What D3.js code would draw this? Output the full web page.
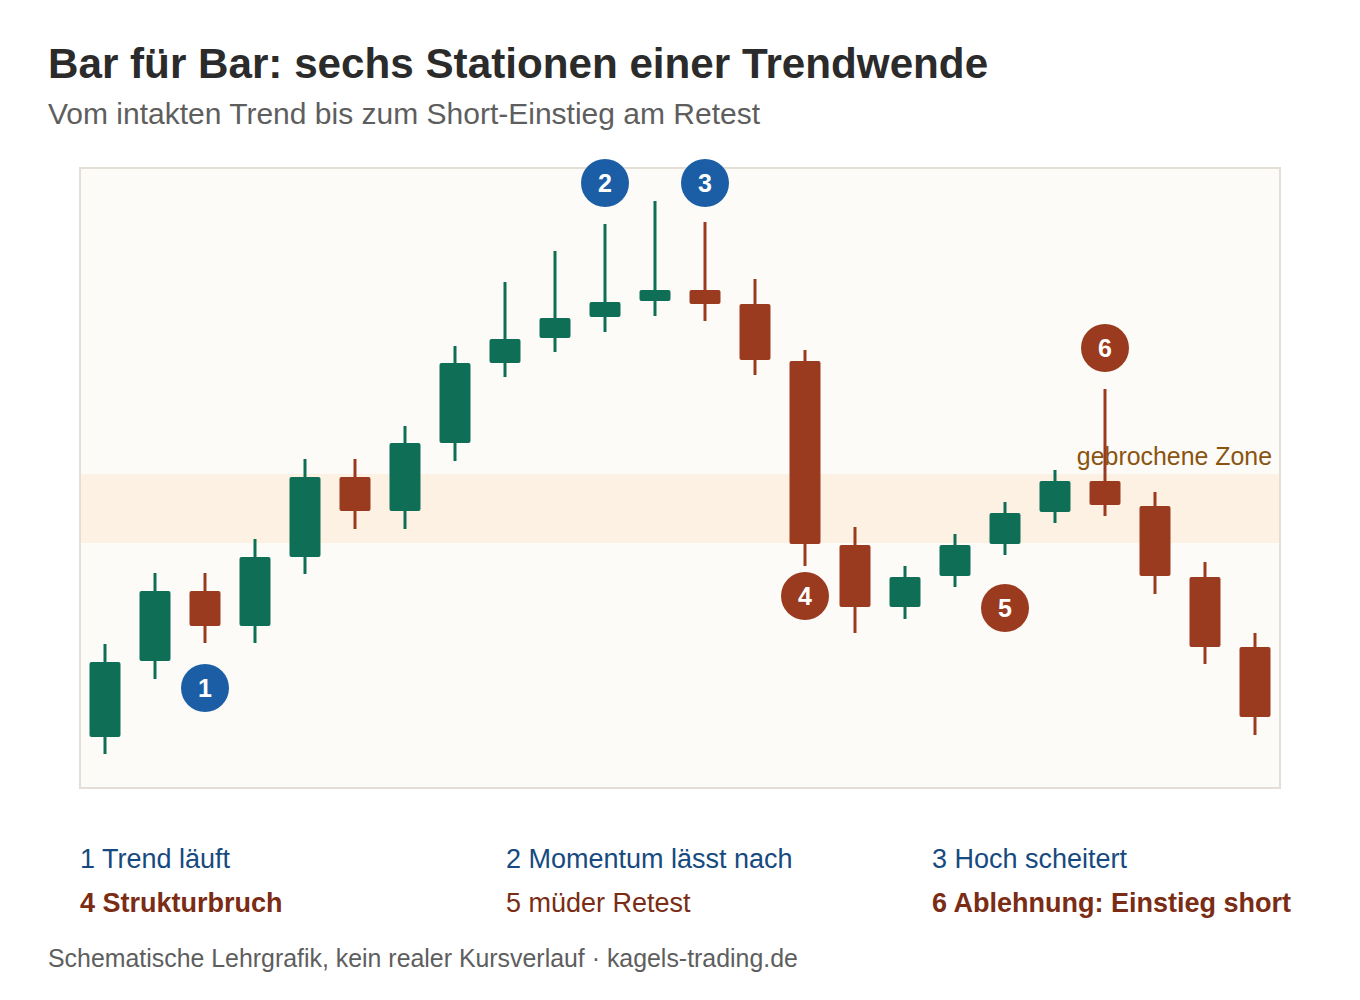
<!DOCTYPE html>
<meta charset="utf-8">
<script src="https://d3js.org/d3.v7.min.js"></script>
<style>
    body { margin: 0; background: #fff; }
    text { font-family: "Liberation Sans", Arial, Helvetica, sans-serif; }
</style>
<div id="chart"></div>
<script>
    // OHLC der 24 schematischen Kerzen (Preis-Einheiten)
    const opens  = [95.1, 102.7, 109.7, 106.2, 113.1, 121.1, 117.7, 124.5, 132.5, 135.0, 137.1, 138.7,
                    139.8, 138.4, 132.7, 114.3, 108.1, 111.2, 114.4, 117.6, 120.7, 118.2, 111.1, 104.1];
    const highs  = [104.4, 111.5, 111.5, 114.9, 122.9, 122.9, 126.2, 134.2, 140.6, 143.7, 146.4, 148.7,
                    146.6, 140.9, 133.8, 116.1, 112.2, 115.4, 118.6, 121.8, 129.9, 119.6, 112.6, 105.5];
    const lows   = [93.4, 100.9, 104.5, 104.5, 111.4, 115.9, 115.9, 122.7, 131.1, 133.6, 135.6, 137.2,
                    136.7, 131.3, 112.2, 105.5, 106.9, 110.1, 113.3, 116.5, 117.2, 109.4, 102.4, 95.3];
    const closes = [102.6, 109.7, 106.2, 113.1, 121.1, 117.7, 124.5, 132.5, 134.9, 137.0, 138.6, 139.8,
                    138.4, 132.8, 114.4, 108.1, 111.1, 114.3, 117.5, 120.7, 118.3, 111.2, 104.1, 97.1];

    // gebrochene Zone
    const zoneLow = 114.5, zoneHigh = 121.4;
    const zoneLabel = "gebrochene Zone";

    // Stationen (Kerzenindex, Preisposition)
    const badgeLabels = ["1", "2", "3", "4", "5", "6"];
    const badgeIdx    = [2, 10, 12, 14, 18, 20];
    const badgePrice  = [100.0, 150.5, 150.5, 109.2, 108.0, 134.0];

    const legendLabels = ["1 Trend läuft", "2 Momentum lässt nach", "3 Hoch scheitert",
                          "4 Strukturbruch", "5 müder Retest", "6 Ablehnung: Einstieg short"];
    const legendBold   = [false, false, false, true, false, true];

    const title = "Bar für Bar: sechs Stationen einer Trendwende";
    const subtitle = "Vom intakten Trend bis zum Short-Einstieg am Retest";
    const footer = "Schematische Lehrgrafik, kein realer Kursverlauf · kagels-trading.de";

    const green = "#0f6e56", red = "#9a3a1e", blue = "#1b5ea6";
    const legendBlue = "#164a80", legendRed = "#7a2c14";

    const W = 1360, H = 1000;
    const plot = {left: 80, right: 1280, top: 168, bottom: 788};

    const svg = d3.select("#chart").append("svg")
        .attr("width", W)
        .attr("height", H);

    svg.append("text")
        .attr("x", 48).attr("y", 78)
        .attr("font-size", 42.2).attr("font-weight", "bold")
        .attr("fill", "#2b2b2b")
        .text(title);

    svg.append("text")
        .attr("x", 48).attr("y", 124)
        .attr("font-size", 30)
        .attr("fill", "#5e5e5e")
        .text(subtitle);

    const candles = opens.map((o, i) => ({i, o, h: highs[i], l: lows[i], c: closes[i]}));

    const x = d3.scaleBand()
        .domain(d3.range(candles.length))
        .range([plot.left, plot.right])
        .paddingInner(0.38)
        .paddingOuter(0.19);

    const y = d3.scaleLinear()
        .domain([90, 152])
        .range([plot.bottom, plot.top]);

    const cx = i => x(i) + x.bandwidth() / 2;

    // Hintergrund der Zeichenfläche
    svg.append("rect")
        .attr("x", plot.left).attr("y", plot.top)
        .attr("width", plot.right - plot.left)
        .attr("height", plot.bottom - plot.top)
        .attr("fill", "#fcfbf8")
        .attr("stroke", "#e3dfd6")
        .attr("stroke-width", 2);

    svg.append("rect")
        .attr("x", plot.left + 1)
        .attr("y", y(zoneHigh))
        .attr("width", plot.right - plot.left - 2)
        .attr("height", y(zoneLow) - y(zoneHigh))
        .attr("fill", "#fcf1e3");

    svg.append("text")
        .attr("x", plot.right - 8)
        .attr("y", y(zoneHigh) - 9)
        .attr("text-anchor", "end")
        .attr("font-size", 24.9)
        .attr("fill", "#8a5410")
        .text(zoneLabel);

    const colorOf = d => d.c >= d.o ? green : red;

    svg.append("g").selectAll("line")
        .data(candles)
        .join("line")
            .attr("x1", d => cx(d.i)).attr("x2", d => cx(d.i))
            .attr("y1", d => y(d.h)).attr("y2", d => y(d.l))
            .attr("stroke", colorOf)
            .attr("stroke-width", 3);

    svg.append("g").selectAll("rect")
        .data(candles)
        .join("rect")
            .attr("x", d => x(d.i))
            .attr("width", x.bandwidth())
            .attr("y", d => y(Math.max(d.o, d.c)))
            .attr("height", d => Math.abs(y(d.o) - y(d.c)))
            .attr("rx", 2)
            .attr("fill", colorOf);

    // Stationen-Marker
    const badges = svg.append("g").selectAll("g")
        .data(badgeLabels.map((t, k) => ({t, i: badgeIdx[k], p: badgePrice[k], k})))
        .join("g")
            .attr("transform", d => `translate(${cx(d.i)},${y(d.p)})`);

    badges.append("circle")
        .attr("r", 24)
        .attr("fill", d => d.k < 3 ? blue : red);

    badges.append("text")
        .attr("text-anchor", "middle")
        .attr("dy", "0.36em")
        .attr("font-size", 25)
        .attr("font-weight", "bold")
        .attr("fill", "#fff")
        .text(d => d.t);

    // Legende
    const colX = [80, 506, 932];
    const rowY = [868, 912];
    svg.append("g").selectAll("text")
        .data(legendLabels)
        .join("text")
            .attr("x", (d, k) => colX[k % 3])
            .attr("y", (d, k) => rowY[Math.floor(k / 3)])
            .attr("font-size", 27)
            .attr("font-weight", (d, k) => legendBold[k] ? "bold" : "normal")
            .attr("fill", (d, k) => k < 3 ? legendBlue : legendRed)
            .text(d => d);

    svg.append("text")
        .attr("x", 48).attr("y", 967)
        .attr("font-size", 24.9)
        .attr("fill", "#5e5e5e")
        .text(footer);
</script>
